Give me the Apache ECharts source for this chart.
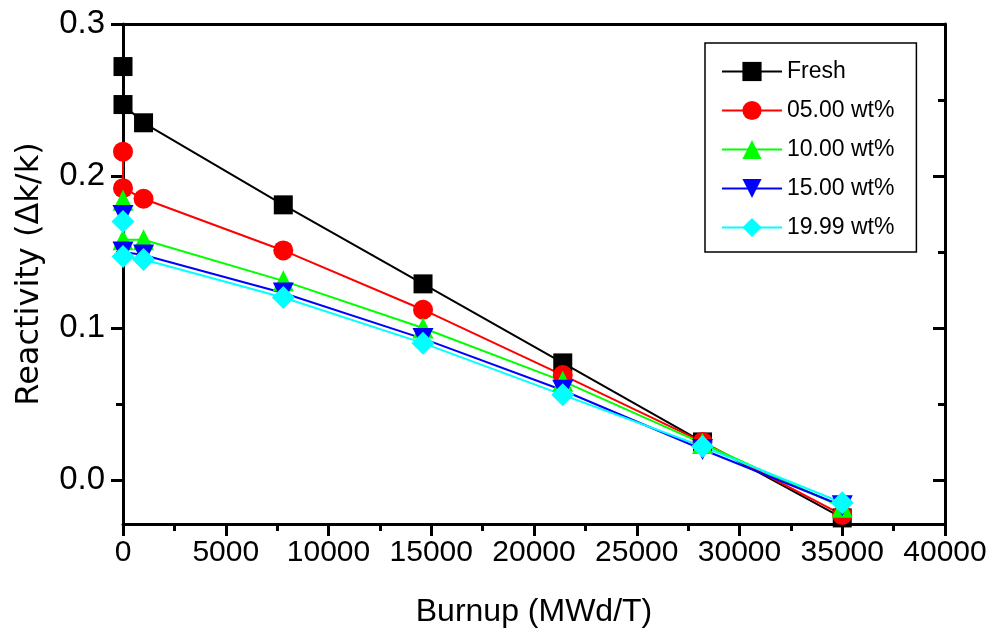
<!DOCTYPE html>
<html>
<head>
<meta charset="utf-8">
<script src="https://cdn.jsdelivr.net/npm/echarts@6/dist/echarts.min.js"></script>
<style>
  html, body { margin: 0; padding: 0; background: #fff; }
  #chart { width: 996px; height: 639px; }
</style>
</head>
<body>
<div id="chart"></div>
<script>
// burnup points (MWd/T)
const burnup = [0, 0, 1000, 7800, 14600, 21400, 28200, 35000]

// reactivity per series
const fresh = [0.272, 0.247, 0.235, 0.181, 0.129, 0.077, 0.025, -0.025]
const wt05 = [0.216, 0.192, 0.185, 0.151, 0.112, 0.069, 0.025, -0.023]
const wt10 = [0.184, 0.158, 0.158, 0.131, 0.100, 0.065, 0.024, -0.018]
const wt15 = [0.174, 0.150, 0.148, 0.123, 0.093, 0.059, 0.020, -0.017]
const wt1999 = [0.170, 0.147, 0.145, 0.120, 0.090, 0.056, 0.022, -0.015]

const names = ['Fresh', '05.00 wt%', '10.00 wt%', '15.00 wt%', '19.99 wt%']
const yMajor = [0, 0.1, 0.2, 0.3]
const yMinor = [0.05, 0.15, 0.25]

const yMin = -0.029, yMax = 0.3
const sans = "'Liberation Sans', Arial, sans-serif"
const wide = "'DejaVu Sans', 'Liberation Sans', sans-serif"

function pairs(ys) {
    return burnup.map((x, i) => [x, ys[i]])
}

// one line series per composition
function mk(name, ys, color, symbol, size, rotate) {
    return {
        name: name,
        type: 'line',
        data: pairs(ys),
        xAxisIndex: 0,
        yAxisIndex: 0,
        symbol: symbol,
        symbolSize: size,
        symbolRotate: rotate || 0,
        showAllSymbol: true,
        lineStyle: {color: color, width: 2},
        itemStyle: {color: color},
        emphasis: {disabled: true},
        animation: false
    }
}

// yAxis helper: only ticks, no labels
function tickAxis(pos, values, len, inside) {
    return {
        type: 'value', position: pos, min: yMin, max: yMax,
        axisLine: {show: false, onZero: false},
        splitLine: {show: false},
        axisLabel: {show: false},
        axisTick: {show: true, inside: inside, length: len, customValues: values,
            lineStyle: {color: '#000', width: 3}}
    }
}

let myChart = echarts.init(document.getElementById('chart'), null, {renderer: 'canvas'})
let option = {
    backgroundColor: '#fff',
    animation: false,
    grid: {left: 123, right: 51, top: 24, bottom: 115, containLabel: false, outerBoundsMode: 'none'},
    legend: {
        left: 705,
        top: 43,
        orient: 'vertical',
        data: names,
        itemWidth: 60,
        itemHeight: 24,
        itemGap: 16,
        padding: [17, 22, 13, 16],
        borderColor: '#000',
        borderWidth: 1.5,
        textStyle: {fontSize: 23, fontFamily: sans, color: '#000'}
    },
    xAxis: [
        {
            type: 'value', min: 0, max: 40000, interval: 5000,
            position: 'bottom',
            name: 'Burnup (MWd/T)',
            nameLocation: 'middle',
            nameGap: 72,
            nameTextStyle: {fontSize: 32, fontFamily: sans, color: '#000'},
            axisLine: {show: true, onZero: false, lineStyle: {color: '#000', width: 3}},
            axisTick: {show: true, inside: false, length: 12, lineStyle: {color: '#000', width: 3}},
            minorTick: {show: true, splitNumber: 2, length: 7, lineStyle: {color: '#000', width: 3}},
            splitLine: {show: false},
            axisLabel: {fontSize: 30, fontFamily: sans, color: '#000', margin: 14,
                formatter: v => String(v)}
        },
        {
            type: 'value', min: 0, max: 40000, position: 'top',
            axisLine: {show: true, onZero: false, lineStyle: {color: '#000', width: 3}},
            axisTick: {show: false},
            axisLabel: {show: false},
            splitLine: {show: false}
        }
    ],
    yAxis: [
        {
            type: 'value', min: yMin, max: yMax, position: 'left',
            name: 'Reactivity (\u0394k/k)',
            nameLocation: 'middle',
            nameGap: 77,
            nameTextStyle: {fontSize: 32, fontFamily: wide, color: '#000'},
            axisLine: {show: true, onZero: false, lineStyle: {color: '#000', width: 3}},
            axisTick: {show: true, inside: false, length: 12, customValues: yMajor,
                lineStyle: {color: '#000', width: 3}},
            axisLabel: {fontSize: 33, fontFamily: sans, color: '#000', margin: 18,
                customValues: yMajor,
                formatter: v => v.toFixed(1)},
            splitLine: {show: false}
        },
        tickAxis('left', yMinor, 7, false),
        {
            type: 'value', min: yMin, max: yMax, position: 'right',
            axisLine: {show: true, onZero: false, lineStyle: {color: '#000', width: 3}},
            axisTick: {show: true, inside: true, length: 12, customValues: yMajor,
                lineStyle: {color: '#000', width: 3}},
            axisLabel: {show: false},
            splitLine: {show: false}
        },
        tickAxis('right', yMinor, 7, true)
    ],
    series: [
        mk(names[0], fresh, '#000000', 'rect', 19),
        mk(names[1], wt05, '#ff0000', 'circle', 20),
        mk(names[2], wt10, '#00ff00', 'triangle', 21),
        mk(names[3], wt15, '#0000ff', 'triangle', 21, 180),
        mk(names[4], wt1999, '#00ffff', 'diamond', 23)
    ]
}

myChart.setOption(option)
</script>
</body>
</html>
